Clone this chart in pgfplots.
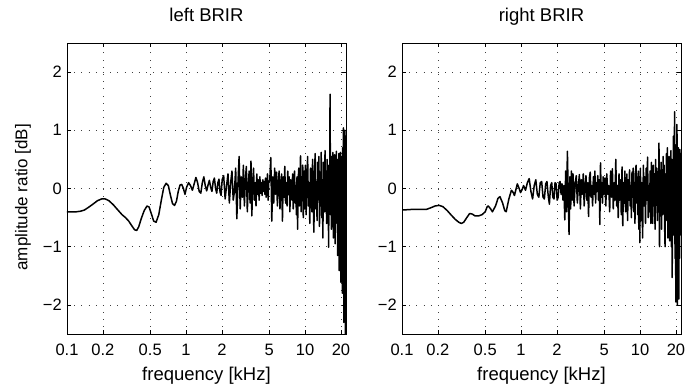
\documentclass[border=0pt]{standalone}
\usepackage{fontspec}
\setmainfont{Liberation Sans}
\usepackage{pgfplots}
\pgfplotsset{compat=1.18}
\pgfplotsset{every tick label/.append style={font=\fontsize{16.5}{19}\selectfont},
  every axis x label/.append style={font=\fontsize{18.5}{21}\selectfont},
  every axis y label/.append style={font=\fontsize{17}{20}\selectfont},
  every axis title/.append style={font=\fontsize{18.5}{21}\selectfont}}
\begin{document}
\begin{tikzpicture}
\useasboundingbox (0,0) rectangle (686pt,386pt);
\begin{axis}[at={(67pt,52pt)}, anchor=south west,
    width=279pt, height=291pt, scale only axis,
    xmode=log, xmin=0.1, xmax=22.05, ymin=-2.5, ymax=2.5,
    xtick={0.1,0.2,0.5,1,2,5,10,20},
    xticklabels={0.1,0.2,0.5,1,2,5,10,20},
    ytick={-2,-1,0,1,2},
    yticklabels={−2,−1,0,1,2},
    xminorticks=false, yminorticks=false,
    grid=major,
    major grid style={black!75, line width=0.6pt, dash pattern=on 0.7pt off 6.5pt},
    tick align=inside, major tick length=4pt,
    tick style={black, line width=0.6pt},
    axis line style={black, line width=0.8pt},
    xticklabel style={anchor=north, inner sep=0pt, yshift=-10pt},
    yticklabel style={anchor=east, inner sep=0pt, xshift=-5pt},
    title style={at={(0.5,1)}, anchor=base, yshift=16pt, inner sep=0pt},
    xlabel style={at={(axis description cs:0.5,-0.1615)}, anchor=base, inner sep=0pt},
    xlabel={frequency [kHz]},
    title={left BRIR},
    ylabel={amplitude ratio [dB]},
    ylabel style={at={(axis description cs:-0.158,0.47)}, anchor=center}]
\addplot[black, line width=1.5pt, line join=round] table {
x y
0.1 -0.40
0.12 -0.40
0.13 -0.39
0.14 -0.37
0.15 -0.33
0.165 -0.27
0.18 -0.21
0.195 -0.18
0.21 -0.18
0.225 -0.21
0.245 -0.28
0.265 -0.36
0.29 -0.45
0.31 -0.50
0.33 -0.56
0.35 -0.64
0.37 -0.71
0.385 -0.72
0.40 -0.66
0.42 -0.52
0.445 -0.38
0.47 -0.30
0.49 -0.32
0.51 -0.43
0.535 -0.56
0.56 -0.58
0.59 -0.45
0.62 -0.20
0.65 0.02
0.68 0.09
0.71 0.05
0.74 -0.12
0.77 -0.26
0.80 -0.29
0.83 -0.22
0.86 -0.05
0.89 0.06
0.92 0.07
0.95 0.0
0.98 -0.10
1.01 0.02
1.05 0.10
1.09 0.05
1.13 -0.03
1.17 0.08
1.21 0.19
1.25 0.10
1.29 -0.05
1.33 -0.08
1.37 0.10
1.41 0.20
1.45 0.05
1.49 -0.04
1.53 0.06
1.57 0.14
1.61 0.02
1.65 -0.05
1.69 0.12
1.73 0.18
1.77 0.00
1.81 -0.08
1.85 0.10
1.89 0.16
1.93 -0.06
1.97 -0.12
2.01 0.15
2.07 0.22
2.13 -0.18
2.19 0.05
2.25 0.25
2.31 -0.25
2.37 0.10
2.43 0.30
2.49 -0.20
2.55 -0.05
2.61 0.35
2.67 -0.52
2.73 0.10
2.79 0.55
2.85 -0.35
2.91 0.20
2.97 -0.15
3.03 0.40
3.09 -0.30
3.15 0.15
3.21 0.38
3.27 -0.40
3.33 0.05
3.39 0.30
3.45 -0.25
3.51 0.47
3.57 -0.47
3.63 0.12
3.69 0.35
3.75 -0.20
3.81 0.10
3.87 -0.30
3.93 0.25
3.99 -0.10
4.05 0.15
4.11 -0.20
4.17 0.20
4.23 -0.08
4.29 0.10
4.35 -0.12
4.41 0.15
4.47 -0.05
4.53 0.12
4.59 -0.10
4.65 0.18
4.71 -0.15
4.77 0.05
4.83 0.25
4.89 -0.20
4.95 0.10
5.05 0.15
5.15 0.53
5.25 -0.56
5.35 0.20
5.45 -0.25
5.55 0.35
5.65 -0.10
5.75 0.28
5.85 -0.30
5.95 0.10
6.05 0.30
6.15 -0.35
6.25 0.05
6.35 0.25
6.45 -0.56
6.55 0.20
6.65 -0.15
6.75 0.38
6.85 -0.25
6.95 0.10
7.05 -0.30
7.15 0.30
7.25 -0.10
7.35 0.20
7.45 -0.40
7.55 0.15
7.65 0.05
7.75 -0.20
7.85 0.25
7.95 -0.35
8.05 0.10
8.15 0.30
8.25 -0.25
8.35 0.05
8.45 -0.45
8.55 0.20
8.65 -0.70
8.75 0.15
8.85 0.35
8.95 -0.30
9.05 0.10
9.15 0.56
9.25 -0.40
9.35 0.20
9.45 -0.15
9.55 0.40
9.65 -0.50
9.75 0.05
9.85 0.30
9.95 -0.35
10.05 0.40
10.20 -0.45
10.35 0.15
10.50 0.55
10.65 -0.30
10.80 0.10
10.95 -0.60
11.10 0.35
11.25 0.05
11.40 -0.40
11.55 0.50
11.70 -0.20
11.85 -0.75
12.00 0.30
12.15 0.60
12.30 -0.35
12.45 0.10
12.60 -0.55
12.75 0.45
12.90 -0.10
13.05 0.55
13.20 -0.65
13.35 0.20
13.50 -0.30
13.65 0.62
13.80 -0.50
13.95 0.15
14.10 -0.85
14.25 0.45
14.40 0.05
14.55 -0.40
14.70 0.65
14.85 -0.25
15.00 0.30
15.15 -0.60
15.30 0.50
15.45 -0.15
15.60 0.40
15.75 -1.01
15.90 0.20
16.05 -0.30
16.20 1.62
16.35 -0.45
16.50 0.35
16.65 -0.70
16.80 0.55
16.95 -0.20
17.10 0.62
17.25 -0.85
17.40 0.25
17.55 -0.40
17.70 0.58
17.85 -0.95
18.00 0.45
18.15 -0.30
18.30 0.64
18.45 -0.60
18.60 0.30
18.75 -1.15
18.90 0.50
19.05 -0.50
19.20 0.60
19.35 -1.41
19.50 0.40
19.65 -0.80
19.80 0.62
19.95 -1.61
20.10 0.55
20.25 -1.20
20.40 0.45
20.55 -1.80
20.70 0.70
20.85 -1.40
21.00 1.04
21.15 -2.30
21.30 0.80
21.45 -2.10
21.60 1.00
21.75 -2.60
21.90 0.90
22.05 -1.50
};
\end{axis}
\begin{axis}[at={(402pt,52pt)}, anchor=south west,
    width=279pt, height=291pt, scale only axis,
    xmode=log, xmin=0.1, xmax=22.05, ymin=-2.5, ymax=2.5,
    xtick={0.1,0.2,0.5,1,2,5,10,20},
    xticklabels={0.1,0.2,0.5,1,2,5,10,20},
    ytick={-2,-1,0,1,2},
    yticklabels={−2,−1,0,1,2},
    xminorticks=false, yminorticks=false,
    grid=major,
    major grid style={black!75, line width=0.6pt, dash pattern=on 0.7pt off 6.5pt},
    tick align=inside, major tick length=4pt,
    tick style={black, line width=0.6pt},
    axis line style={black, line width=0.8pt},
    xticklabel style={anchor=north, inner sep=0pt, yshift=-10pt},
    yticklabel style={anchor=east, inner sep=0pt, xshift=-5pt},
    title style={at={(0.5,1)}, anchor=base, yshift=16pt, inner sep=0pt},
    xlabel style={at={(axis description cs:0.5,-0.1615)}, anchor=base, inner sep=0pt},
    xlabel={frequency [kHz]},
    title={right BRIR}]
\addplot[black, line width=1.5pt, line join=round] table {
x y
0.1 -0.37
0.12 -0.36
0.14 -0.36
0.16 -0.36
0.175 -0.33
0.19 -0.30
0.205 -0.29
0.22 -0.31
0.24 -0.38
0.26 -0.46
0.28 -0.53
0.30 -0.58
0.315 -0.60
0.33 -0.58
0.35 -0.50
0.37 -0.43
0.39 -0.44
0.41 -0.47
0.44 -0.47
0.47 -0.45
0.50 -0.40
0.52 -0.31
0.53 -0.30
0.555 -0.35
0.575 -0.40
0.61 -0.30
0.64 -0.17
0.665 -0.14
0.70 -0.25
0.73 -0.38
0.75 -0.40
0.79 -0.18
0.83 -0.03
0.86 -0.07
0.88 -0.12
0.91 0.00
0.93 0.08
0.96 0.01
0.99 -0.07
1.02 -0.02
1.05 0.05
1.09 -0.03
1.13 0.10
1.17 0.17
1.21 -0.05
1.25 -0.18
1.29 0.05
1.33 0.15
1.37 -0.10
1.41 -0.15
1.45 0.10
1.49 0.12
1.53 -0.15
1.57 -0.18
1.61 0.08
1.65 0.12
1.69 -0.12
1.73 -0.27
1.77 0.05
1.81 0.10
1.85 -0.15
1.89 -0.18
1.93 0.10
1.97 0.08
2.01 -0.20
2.05 -0.15
2.09 0.10
2.13 0.12
2.17 -0.10
2.21 0.08
2.25 -0.20
2.29 0.05
2.33 -0.54
2.37 0.30
2.41 -0.40
2.45 0.64
2.49 -0.10
2.53 -0.79
2.57 0.20
2.61 -0.35
2.65 0.30
2.69 -0.20
2.73 0.25
2.79 -0.30
2.85 0.10
2.91 0.22
2.97 -0.25
3.03 0.05
3.09 0.24
3.15 -0.35
3.21 0.15
3.27 -0.10
3.33 0.25
3.39 -0.30
3.45 0.05
3.51 0.22
3.57 -0.20
3.63 0.10
3.69 -0.48
3.75 0.18
3.81 0.28
3.87 -0.15
3.93 0.05
3.99 -0.30
4.05 0.20
4.11 -0.10
4.17 0.30
4.23 -0.25
4.29 0.10
4.35 -0.05
4.41 0.22
4.47 -0.20
4.53 0.15
4.59 -0.62
4.65 0.44
4.71 -0.15
4.77 0.10
4.83 -0.25
4.89 0.20
4.95 -0.10
5.05 0.18
5.15 -0.30
5.25 0.25
5.35 -0.10
5.45 0.05
5.55 -0.40
5.65 0.30
5.75 -0.15
5.85 0.34
5.95 -0.35
6.05 0.10
6.15 -0.20
6.25 0.50
6.35 -0.30
6.45 0.05
6.55 -0.50
6.65 0.25
6.75 -0.20
6.85 0.15
6.95 -0.45
7.05 0.37
7.15 -0.64
7.25 0.10
7.35 -0.25
7.45 0.30
7.55 -0.40
7.65 0.05
7.75 0.25
7.85 -0.55
7.95 0.15
8.05 -0.20
8.15 0.32
8.25 -0.30
8.35 0.05
8.45 -0.50
8.55 0.28
8.65 -0.15
8.75 0.35
8.85 -0.40
8.95 0.10
9.05 -0.60
9.15 0.30
9.25 0.40
9.35 -0.25
9.45 0.05
9.55 -0.45
9.65 0.30
9.75 -0.70
9.85 0.20
9.95 -0.93
10.05 0.35
10.20 -0.55
10.35 0.10
10.50 -0.85
10.65 0.40
10.80 -0.30
10.95 0.20
11.10 -0.60
11.25 0.35
11.40 -0.20
11.55 0.54
11.70 -0.50
11.85 0.05
12.00 -0.40
12.15 0.30
12.30 -0.60
12.45 0.45
12.60 -0.15
12.75 -0.60
12.90 0.40
13.05 -0.30
13.20 0.25
13.35 -0.70
13.50 0.50
13.65 -0.20
13.80 0.35
13.95 -0.55
14.10 0.20
14.25 -0.40
14.40 0.78
14.55 -1.00
14.70 0.30
14.85 -0.35
15.00 0.45
15.15 -0.70
15.30 0.20
15.45 -0.45
15.60 0.55
15.75 -0.30
15.90 0.40
16.05 -0.60
16.20 -1.00
16.35 0.25
16.50 -0.40
16.65 0.60
16.80 -0.55
16.95 0.70
17.10 -0.85
17.25 0.30
17.40 -0.45
17.55 0.55
17.70 -0.90
17.85 0.40
18.00 -0.30
18.15 0.65
18.30 -1.00
18.45 0.50
18.60 -1.53
18.75 0.45
18.90 -0.60
19.05 0.90
19.20 -0.80
19.35 0.60
19.50 1.32
19.65 -1.20
19.80 0.75
19.95 -1.95
20.10 0.50
20.25 -1.50
20.40 1.10
20.55 -2.00
20.70 0.60
20.85 -1.70
21.00 0.70
21.15 -1.90
21.30 0.50
21.45 -1.20
21.60 0.67
21.75 -0.80
21.90 0.60
22.05 -0.40
};
\end{axis}
\end{tikzpicture}
\end{document}
